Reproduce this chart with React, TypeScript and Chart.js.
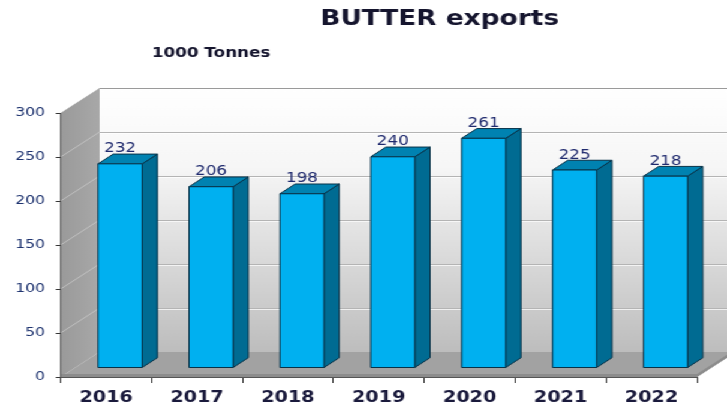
import React, { useEffect, useRef } from 'react';
import { Chart, registerables } from 'chart.js';

Chart.register(...registerables);

// ---- data ----
const categories = ['2016', '2017', '2018', '2019', '2020', '2021', '2022'];
const exportValues = [232, 206, 198, 240, 261, 225, 218];
const yTickValues = [0, 50, 100, 150, 200, 250, 300];
const titleText = 'BUTTER exports';
const unitText = '1000 Tonnes';

// ---- drawing constants ----
const W = 606;
const H = 414;
const SX = 727 / W;
const DEPTH_X = 32.5;
const DEPTH_Y = -25;
const FRONT = 0.36;
const BAR_DEPTH = 0.39;
const FONT = '"DejaVu Sans", Verdana, sans-serif';

function poly(ctx: CanvasRenderingContext2D, pts: number[][], fill: string, stroke?: string) {
  ctx.beginPath();
  ctx.moveTo(pts[0][0], pts[0][1]);
  for (let i = 1; i < pts.length; i++) ctx.lineTo(pts[i][0], pts[i][1]);
  ctx.closePath();
  ctx.fillStyle = fill;
  ctx.fill();
  if (stroke) {
    ctx.strokeStyle = stroke;
    ctx.lineWidth = 1;
    ctx.stroke();
  }
}

const wallsPlugin = {
  id: 'walls3d',
  beforeDraw(chart: any) {
    const { ctx, chartArea } = chart;
    const { left: L, right: R, top: T, bottom: B } = chartArea;
    const yScale = chart.scales.y;
    ctx.save();
    // back wall
    const g = ctx.createLinearGradient(0, T + DEPTH_Y, 0, B + DEPTH_Y);
    g.addColorStop(0, '#ffffff');
    g.addColorStop(0.3, '#f6f6f6');
    g.addColorStop(1, '#bdbdbd');
    poly(ctx, [[L + DEPTH_X, T + DEPTH_Y], [R + DEPTH_X + 40, T + DEPTH_Y], [R + DEPTH_X + 40, B + DEPTH_Y], [L + DEPTH_X, B + DEPTH_Y]], g);
    // left wall
    const lg = ctx.createLinearGradient(L, 0, L + DEPTH_X, 0);
    lg.addColorStop(0, '#9a9a9a');
    lg.addColorStop(1, '#a8a8a8');
    poly(ctx, [[L, T], [L + DEPTH_X, T + DEPTH_Y], [L + DEPTH_X, B + DEPTH_Y], [L, B]], lg);
    // gridlines
    yTickValues.forEach((v) => {
      if (v === 0) return;
      const py = yScale.getPixelForValue(v);
      ctx.lineWidth = 1;
      ctx.strokeStyle = v === 300 ? '#9a9a9a' : '#b4b4b4';
      ctx.beginPath();
      ctx.moveTo(L + DEPTH_X, py + DEPTH_Y + 0.5);
      ctx.lineTo(R + DEPTH_X + 40, py + DEPTH_Y + 0.5);
      ctx.stroke();
      ctx.strokeStyle = 'rgba(255,255,255,0.7)';
      ctx.beginPath();
      ctx.moveTo(L + DEPTH_X, py + DEPTH_Y + 1.5);
      ctx.lineTo(R + DEPTH_X + 40, py + DEPTH_Y + 1.5);
      ctx.stroke();
      if (v !== 300) {
        ctx.strokeStyle = 'rgba(200,200,200,0.8)';
        ctx.beginPath();
        ctx.moveTo(L, py);
        ctx.lineTo(L + DEPTH_X, py + DEPTH_Y);
        ctx.stroke();
      }
    });
    // floor
    poly(ctx, [[L, B], [R, B], [R + DEPTH_X, B + DEPTH_Y], [L + DEPTH_X, B + DEPTH_Y]], '#a2a2a2');
    poly(ctx, [[L, B - 3], [R, B - 3], [R, B], [L, B]], '#8c8c8c');
    poly(ctx, [[R, B - 3], [R + DEPTH_X, B - 3 + DEPTH_Y], [R + DEPTH_X, B + DEPTH_Y], [R, B]], '#8c8c8c');
    ctx.restore();
  },
  afterDatasetsDraw(chart: any) {
    const { ctx } = chart;
    const meta = chart.getDatasetMeta(0);
    const data = chart.data.datasets[0].data as number[];
    const fx = DEPTH_X * FRONT;
    const fy = DEPTH_Y * FRONT;
    const bx = DEPTH_X * BAR_DEPTH;
    const by = DEPTH_Y * BAR_DEPTH;
    ctx.save();
    meta.data.forEach((bar: any, i: number) => {
      const { x, y, base, width } = bar.getProps(['x', 'y', 'base', 'width'], true);
      const x0 = x - width / 2 + fx;
      const x1 = x + width / 2 + fx;
      const t = y + fy;
      const b = base + fy;
      const edge = '#073248';
      poly(ctx, [[x1, t], [x1 + bx, t + by], [x1 + bx, b + by], [x1, b]], '#006b92', edge);
      poly(ctx, [[x0, t], [x0 + bx, t + by], [x1 + bx, t + by], [x1, t]], '#0082b1', edge);
      poly(ctx, [[x0, t], [x1, t], [x1, b], [x0, b]], '#00b0f0', edge);
      ctx.fillStyle = '#1f2a6e';
      ctx.font = `14px ${FONT}`;
      ctx.textAlign = 'center';
      ctx.textBaseline = 'middle';
      ctx.fillText(String(data[i]), (x0 + x1) / 2, t - 15);
    });
    ctx.restore();
  },
  afterDraw(chart: any) {
    const { ctx } = chart;
    ctx.save();
    ctx.fillStyle = '#15152e';
    ctx.textBaseline = 'alphabetic';
    ctx.textAlign = 'center';
    ctx.font = `bold 22px ${FONT}`;
    ctx.fillText(titleText, 366.5, 25);
    ctx.textAlign = 'left';
    ctx.font = `bold 14px ${FONT}`;
    ctx.fillText(unitText, 126.5, 57);
    ctx.restore();
  },
};

export default function App() {
  const canvasRef = useRef<HTMLCanvasElement | null>(null);

  useEffect(() => {
    if (!canvasRef.current) return;
    const chart = new Chart(canvasRef.current, {
      type: 'bar',
      data: {
        labels: categories,
        datasets: [
          {
            label: titleText,
            data: exportValues,
            backgroundColor: 'rgba(0,0,0,0)',
            borderWidth: 0,
            categoryPercentage: 1,
            barPercentage: 0.485,
          },
        ],
      },
      options: {
        animation: false,
        responsive: true,
        maintainAspectRatio: false,
        layout: { padding: { top: 113, right: 25, left: 0, bottom: 0 } },
        plugins: {
          legend: { display: false },
          title: { display: false },
          tooltip: { enabled: false },
        },
        scales: {
          x: {
            offset: true,
            grid: { offset: true, drawOnChartArea: false, drawTicks: true, tickLength: 6, color: '#333333' },
            border: { display: true, color: '#555555', width: 1 },
            ticks: { color: '#1a1a3c', font: { family: FONT, size: 16, weight: 'bold' }, padding: 5 },
            afterFit: (scale: any) => {
              scale.height = 37;
            },
          },
          y: {
            min: 0,
            max: 300,
            ticks: { stepSize: 50, color: '#1f3470', font: { family: FONT, size: 13 }, padding: 9 },
            grid: { drawOnChartArea: false, drawTicks: true, tickLength: 4, color: '#333333' },
            border: { display: true, color: '#555555', width: 1 },
            afterFit: (scale: any) => {
              scale.width = 50.5;
            },
          },
        },
      },
      plugins: [wallsPlugin],
    });
    return () => chart.destroy();
  }, []);

  return (
    <div
      style={{
        position: 'fixed',
        left: 0,
        top: 0,
        width: W,
        height: H,
        transform: `scaleX(${SX})`,
        transformOrigin: '0 0',
        background: '#ffffff',
      }}
    >
      <canvas ref={canvasRef} />
    </div>
  );
}
